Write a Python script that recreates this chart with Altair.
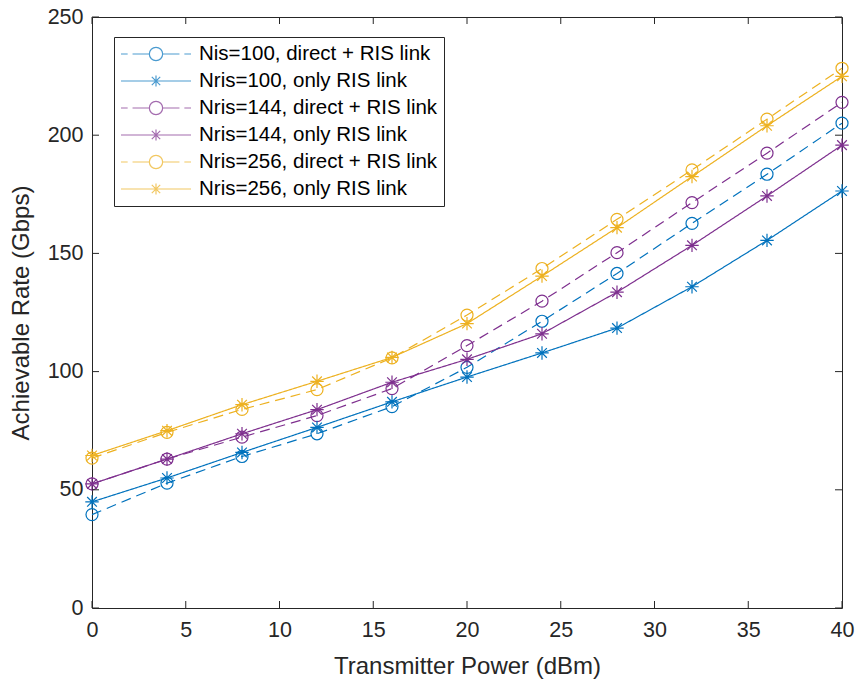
import altair as alt
import pandas as pd

# ---- data ----
power = [0, 4, 8, 12, 16, 20, 24, 28, 32, 36, 40]
labels = [
    "Nis=100, direct + RIS link",
    "Nris=100, only RIS link",
    "Nris=144, direct + RIS link",
    "Nris=144, only RIS link",
    "Nris=256, direct + RIS link",
    "Nris=256, only RIS link",
]
kinds = ["direct", "only", "direct", "only", "direct", "only"]
n100_direct = [39.5, 52.8, 64.1, 73.7, 85.2, 101.8, 121.3, 141.5, 162.7, 183.5, 205.1]
n100_only = [44.9, 55.0, 65.8, 76.4, 87.2, 97.7, 107.9, 118.4, 135.9, 155.5, 176.4]
n144_direct = [52.5, 63.0, 72.3, 81.4, 92.8, 111.0, 129.8, 150.3, 171.5, 192.4, 213.9]
n144_only = [52.5, 63.0, 73.7, 83.9, 95.5, 105.2, 116.0, 133.6, 153.4, 174.3, 195.8]
n256_direct = [63.4, 74.3, 84.0, 92.4, 105.8, 123.9, 143.6, 164.4, 185.3, 206.8, 228.3]
n256_only = [64.5, 75.0, 86.0, 95.9, 106.0, 120.3, 140.4, 160.9, 182.5, 204.0, 224.9]
series_values = [n100_direct, n100_only, n144_direct, n144_only, n256_direct, n256_only]

x_ticks = [0, 5, 10, 15, 20, 25, 30, 35, 40]
y_ticks = [0, 50, 100, 150, 200, 250]

# ---- styles ----
BLUE, PURPLE, YELLOW = "#0072BD", "#7E2F8E", "#EDB120"
colors = [BLUE, BLUE, PURPLE, PURPLE, YELLOW, YELLOW]
dashes = [[10, 6], [1, 0], [10, 6], [1, 0], [10, 6], [1, 0]]
AX = "#262626"
FONT = "Liberation Sans"
ASTERISK = "M0,-1L0,1M-1,0L1,0M-0.72,-0.72L0.72,0.72M-0.72,0.72L0.72,-0.72"
LEG_DIRECT = ("M-1,0L-0.81,0M-0.67,0L-0.19,0M0.19,0L0.67,0M0.81,0L1,0"
              "M0.19,0A0.19,0.19,0,1,1,-0.19,0A0.19,0.19,0,1,1,0.19,0")
LEG_ONLY = ("M-1,0L1,0M0,-0.16L0,0.16M-0.12,-0.12L0.12,0.12M-0.12,0.12L0.12,-0.12")
legend_paths = [LEG_DIRECT if k == "direct" else LEG_ONLY for k in kinds]

rows = []
for lab, kind, vals in zip(labels, kinds, series_values):
    for p, v in zip(power, vals):
        rows.append({"power": p, "rate": v, "series": lab, "kind": kind})
df = pd.DataFrame(rows)

W, H = 750, 591

xs = alt.Scale(domain=[0, 40], nice=False, zero=False)
ys = alt.Scale(domain=[0, 250], nice=False)
cs = alt.Scale(domain=labels, range=colors)

x_axis = alt.Axis(values=x_ticks, ticks=False, domain=False, grid=False, labelFlush=False,
                  labelFontSize=21.5, labelFont=FONT, labelColor=AX, labelPadding=11,
                  title="Transmitter Power (dBm)", titleFontSize=24, titleFont=FONT,
                  titleColor=AX, titleFontWeight="normal", titleY=58, titleBaseline="middle")
y_axis = alt.Axis(values=y_ticks, ticks=False, domain=False, grid=False, labelFlush=False,
                  labelFontSize=21.5, labelFont=FONT, labelColor=AX, labelPadding=9,
                  title="Achievable Rate (Gbps)", titleFontSize=24, titleFont=FONT,
                  titleColor=AX, titleFontWeight="normal", titleX=-71, titleY=H / 2,
                  titleBaseline="middle", titleAngle=270)

base = alt.Chart(df)

lines = base.mark_line(strokeWidth=1.2).encode(
    x=alt.X("power:Q", scale=xs, axis=x_axis),
    y=alt.Y("rate:Q", scale=ys, axis=y_axis),
    color=alt.Color("series:N", scale=cs, legend=None),
    strokeDash=alt.StrokeDash("series:N", scale=alt.Scale(domain=labels, range=dashes), legend=None),
)

circles = base.transform_filter(alt.datum.kind == "direct").mark_point(
    shape="circle", filled=False, size=145, strokeWidth=1.2, opacity=1
).encode(
    x=alt.X("power:Q", scale=xs, axis=None),
    y=alt.Y("rate:Q", scale=ys, axis=None),
    color=alt.Color("series:N", scale=cs, legend=None),
)

stars = base.transform_filter(alt.datum.kind == "only").mark_point(
    shape=ASTERISK, filled=False, size=180, strokeWidth=1.2, opacity=1
).encode(
    x=alt.X("power:Q", scale=xs, axis=None),
    y=alt.Y("rate:Q", scale=ys, axis=None),
    color=alt.Color("series:N", scale=cs, legend=None),
)

leg = alt.Legend(title=None, orient="none", legendX=22, legendY=20, direction="vertical",
                 padding=6, strokeColor=AX, fillColor="white", cornerRadius=0,
                 symbolSize=4900, symbolStrokeWidth=1.2, labelFontSize=20.5, labelFont=FONT,
                 labelColor="#000000", labelOffset=7, labelLimit=0, rowPadding=5,
                 clipHeight=22)

legend_layer = base.transform_filter("datum.power < -100").mark_point(filled=False).encode(
    x=alt.X("power:Q", scale=xs, axis=None),
    y=alt.Y("rate:Q", scale=ys, axis=None),
    color=alt.Color("series:N", scale=cs, legend=leg),
    shape=alt.Shape("series:N", scale=alt.Scale(domain=labels, range=legend_paths), legend=leg),
)

xt = alt.Chart(pd.DataFrame({"power": x_ticks}))
yt = alt.Chart(pd.DataFrame({"rate": y_ticks}))
tick_style = dict(color=AX, strokeWidth=1)
ticks_bottom = xt.mark_rule(**tick_style).encode(
    x=alt.X("power:Q", scale=xs, axis=None), y=alt.value(H), y2=alt.value(H - 7))
ticks_top = xt.mark_rule(**tick_style).encode(
    x=alt.X("power:Q", scale=xs, axis=None), y=alt.value(0), y2=alt.value(7))
ticks_left = yt.mark_rule(**tick_style).encode(
    y=alt.Y("rate:Q", scale=ys, axis=None), x=alt.value(0), x2=alt.value(7))
ticks_right = yt.mark_rule(**tick_style).encode(
    y=alt.Y("rate:Q", scale=ys, axis=None), x=alt.value(W), x2=alt.value(W - 7))

chart = alt.layer(
    lines, circles, stars, legend_layer, ticks_bottom, ticks_top, ticks_left, ticks_right
).resolve_axis(
    x="independent", y="independent"
).resolve_legend(
    color="independent", shape="independent", strokeDash="independent"
).properties(
    width=W, height=H,
    autosize=alt.AutoSizeParams(type="none"),
    padding={"left": 92, "top": 17, "right": 15, "bottom": 76},
    background="white",
).configure_view(stroke=AX, strokeWidth=1)

chart.save("out.html", embed_options={"renderer": "svg", "actions": False})
